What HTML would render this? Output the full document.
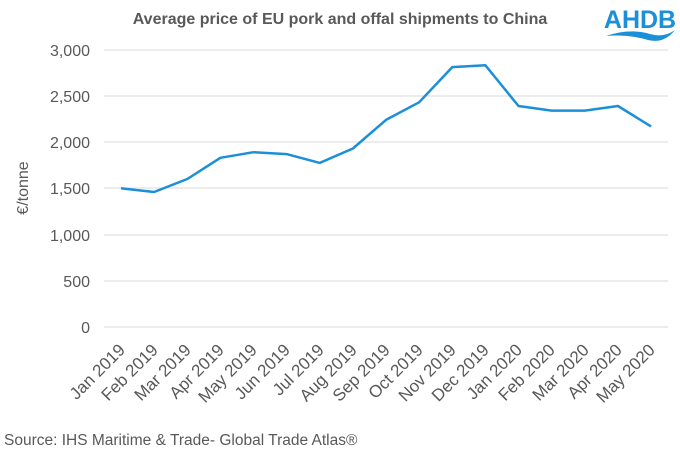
<!DOCTYPE html>
<html><head><meta charset="utf-8"><style>
body{margin:0;background:#fff;}
svg{display:block;font-family:"Liberation Sans",Arial,sans-serif;}
</style></head><body>
<svg width="680" height="454" viewBox="0 0 680 454">
<text x="340" y="24" text-anchor="middle" font-size="16" font-weight="bold" fill="#595959">Average price of EU pork and offal shipments to China</text>
<text x="640" y="28" text-anchor="middle" font-size="25" font-weight="bold" fill="#1b8fd8">AHDB</text>
<path d="M606 36 Q630 28 650 34 Q664 38 675 30 Q664 44 648 40 Q628 34 606 36Z" fill="#1b8fd8"/>
<g stroke="#d9d9d9" stroke-width="1">
<line x1="104" x2="668" y1="50" y2="50"/><line x1="104" x2="668" y1="96" y2="96"/>
<line x1="104" x2="668" y1="142" y2="142"/><line x1="104" x2="668" y1="188" y2="188"/>
<line x1="104" x2="668" y1="235" y2="235"/><line x1="104" x2="668" y1="281" y2="281"/>
<line x1="104" x2="668" y1="327" y2="327"/>
</g>
<g font-size="16" fill="#595959" text-anchor="end">
<text x="90" y="56">3,000</text><text x="90" y="102">2,500</text><text x="90" y="148">2,000</text>
<text x="90" y="194">1,500</text><text x="90" y="241">1,000</text><text x="90" y="287">500</text><text x="90" y="333">0</text>
</g>
<text transform="translate(28,188) rotate(-90)" text-anchor="middle" font-size="16" fill="#595959">€/tonne</text>
<polyline fill="none" stroke="#1b8fd8" stroke-width="2.5" stroke-linejoin="round" points="121,188.3 154.1,192 187.3,179 220.4,157.8 253.5,152.2 286.6,154.1 319.8,162.9 352.9,148.5 386,119.9 419.1,102.3 452.3,67.1 485.4,65.3 518.5,106 551.6,110.6 584.8,110.6 617.9,106 651,126.4"/>
<g font-size="17" fill="#595959" text-anchor="end">
<text transform="translate(126,351) rotate(-45)">Jan 2019</text>
<text transform="translate(159,351) rotate(-45)">Feb 2019</text>
<text transform="translate(192,351) rotate(-45)">Mar 2019</text>
<text transform="translate(225,351) rotate(-45)">Apr 2019</text>
<text transform="translate(258,351) rotate(-45)">May 2019</text>
<text transform="translate(291,351) rotate(-45)">Jun 2019</text>
<text transform="translate(325,351) rotate(-45)">Jul 2019</text>
<text transform="translate(358,351) rotate(-45)">Aug 2019</text>
<text transform="translate(391,351) rotate(-45)">Sep 2019</text>
<text transform="translate(424,351) rotate(-45)">Oct 2019</text>
<text transform="translate(457,351) rotate(-45)">Nov 2019</text>
<text transform="translate(490,351) rotate(-45)">Dec 2019</text>
<text transform="translate(523,351) rotate(-45)">Jan 2020</text>
<text transform="translate(556,351) rotate(-45)">Feb 2020</text>
<text transform="translate(590,351) rotate(-45)">Mar 2020</text>
<text transform="translate(623,351) rotate(-45)">Apr 2020</text>
<text transform="translate(656,351) rotate(-45)">May 2020</text>
</g>
<text x="4" y="445" font-size="15.5" fill="#595959">Source: IHS Maritime &amp; Trade- Global Trade Atlas®</text>
</svg>
</body></html>
